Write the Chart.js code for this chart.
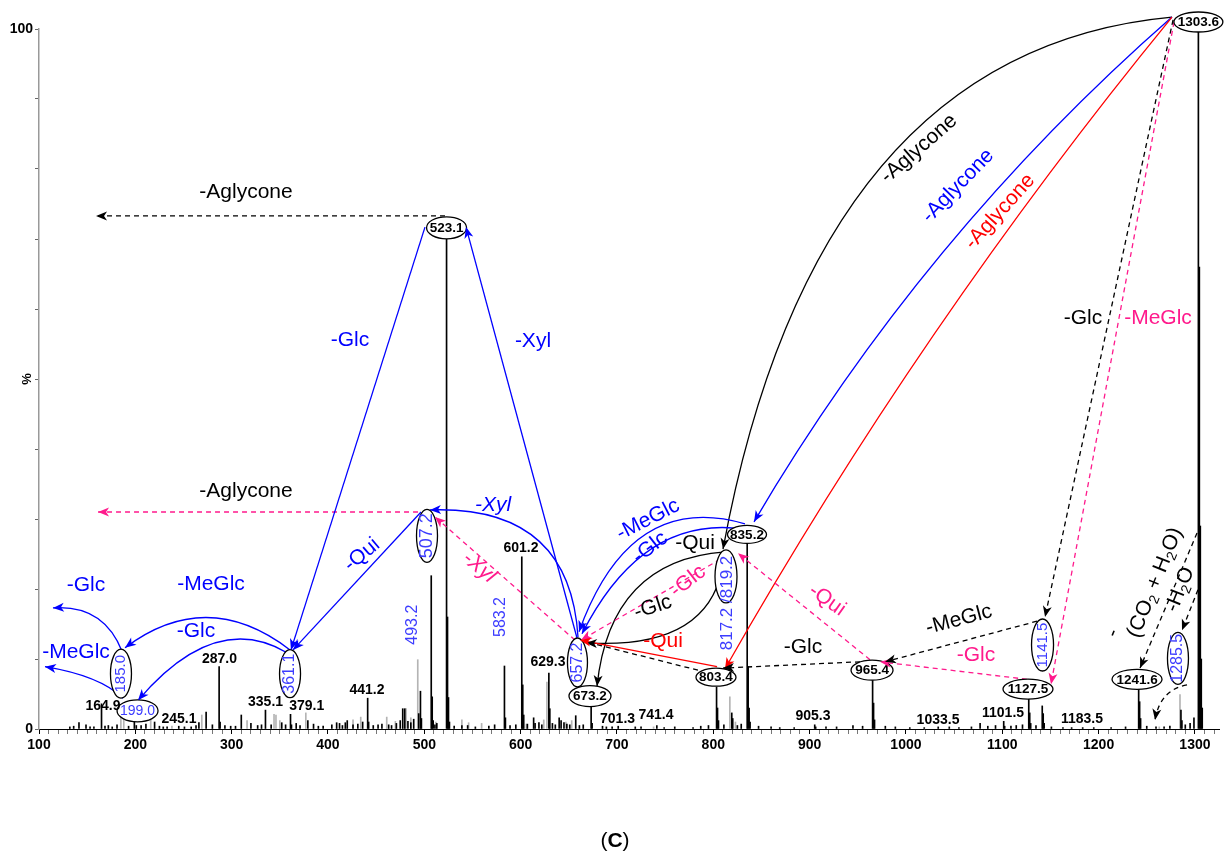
<!DOCTYPE html>
<html>
<head>
<meta charset="utf-8">
<script src="https://cdn.jsdelivr.net/npm/chart.js@4/dist/chart.umd.min.js"></script>
<style>
  html, body { margin: 0; background: #fff; }
  canvas { display: block; }
</style>
</head>
<body>
<canvas id="spectrum" width="1227" height="860"></canvas>
<script>
// MS/MS spectrum of the 1303.6 precursor with the fragmentation pathway drawn over it.

// Centroided peaks (m/z, relative intensity %), black trace
const mzMain = [132.0, 136.0, 141.5, 148.8, 153.0, 157.0, 164.9, 168.5, 172.0, 176.0,
  181.0, 193.0, 199.0, 201.0, 206.0, 211.0, 220.0, 225.0, 229.0, 233.0,
  245.1, 251.0, 258.0, 263.0, 266.0, 273.5, 280.0, 287.0, 288.0, 293.0,
  299.0, 304.0, 310.0, 320.0, 327.0, 331.0, 335.1, 341.0, 352.0, 356.0,
  361.1, 362.1, 367.0, 371.0, 379.1, 385.0, 390.0, 395.0, 404.0, 409.0,
  412.0, 415.0, 418.0, 420.0, 426.0, 431.0, 436.0, 441.2, 442.2, 447.0,
  452.0, 456.0, 463.0, 466.0, 471.0, 475.0, 477.6, 479.7, 483.0, 486.0,
  489.0, 494.2, 496.0, 497.0, 507.2, 508.2, 509.2, 511.0, 513.0, 523.1,
  524.1, 525.1, 526.1, 531.0, 539.0, 545.0, 553.0, 567.0, 573.0, 583.2,
  584.2, 589.0, 595.0, 601.2, 602.2, 603.2, 607.0, 613.5, 615.0, 619.0,
  622.0, 629.3, 630.3, 633.0, 636.0, 640.0, 642.0, 645.0, 648.0, 651.0,
  657.2, 661.0, 665.0, 673.2, 674.2, 685.0, 689.0, 695.0, 701.3, 719.0,
  725.0, 741.4, 749.0, 760.0, 779.0, 787.0, 795.0, 803.4, 804.4, 805.4,
  811.0, 819.2, 820.2, 825.0, 829.0, 835.2, 836.2, 837.2, 838.2, 847.0,
  860.0, 869.0, 884.0, 905.3, 906.3, 917.0, 928.0, 945.0, 955.0, 965.4,
  966.4, 967.4, 978.6, 989.0, 1004.0, 1019.0, 1033.5, 1045.0, 1055.0, 1068.0,
  1077.0, 1085.0, 1093.0, 1101.5, 1102.5, 1109.0, 1114.5, 1121.0, 1127.5, 1128.5,
  1129.5, 1135.0, 1141.5, 1142.5, 1143.5, 1151.0, 1163.0, 1172.0, 1183.5, 1195.0,
  1213.0, 1228.0, 1241.6, 1242.6, 1243.6, 1250.0, 1259.6, 1268.0, 1274.0, 1285.5,
  1286.5, 1290.0, 1295.0, 1299.0, 1303.6, 1304.6, 1305.6, 1306.6, 1307.6];
const intMain = [0.3, 0.4, 0.9, 0.6, 0.3, 0.3, 3.6, 0.4, 0.5, 0.3,
  0.6, 0.4, 2.7, 0.5, 0.5, 0.7, 1.0, 0.4, 0.3, 0.3,
  0.4, 0.3, 0.3, 0.5, 0.9, 2.4, 0.6, 8.9, 1.0, 0.5,
  0.4, 0.4, 2.0, 0.8, 0.5, 0.6, 2.7, 0.6, 0.9, 0.6,
  2.1, 0.6, 0.8, 0.5, 1.2, 0.7, 0.4, 0.4, 0.6, 0.9,
  0.8, 0.5, 0.9, 1.2, 0.6, 0.7, 1.0, 4.4, 1.0, 0.5,
  0.6, 0.7, 0.6, 0.5, 0.8, 1.2, 2.9, 2.9, 1.1, 0.9,
  1.4, 2.2, 5.4, 1.5, 21.9, 4.6, 1.2, 0.6, 0.8, 70.0,
  16.0, 4.5, 1.0, 0.4, 0.5, 0.5, 0.3, 0.4, 0.6, 9.0,
  1.6, 0.5, 0.6, 24.6, 6.3, 2.0, 0.7, 1.6, 0.8, 0.9,
  0.6, 8.0, 2.9, 0.8, 0.6, 1.6, 1.2, 0.9, 0.7, 0.6,
  1.9, 0.5, 0.6, 4.0, 0.8, 0.4, 0.3, 0.3, 0.4, 0.3,
  0.3, 0.5, 0.2, 0.3, 0.2, 0.4, 0.5, 6.0, 3.0, 1.2,
  0.6, 2.3, 1.5, 0.5, 0.7, 26.9, 8.9, 3.0, 1.0, 0.4,
  0.3, 0.2, 0.2, 0.6, 0.3, 0.3, 0.3, 0.5, 0.4, 7.0,
  3.7, 1.3, 0.4, 0.3, 0.2, 0.2, 0.3, 0.3, 0.2, 0.3,
  0.8, 0.4, 0.5, 1.1, 0.4, 0.4, 0.5, 0.6, 4.4, 2.3,
  0.8, 0.5, 3.3, 2.2, 0.8, 0.3, 0.2, 0.2, 0.2, 0.2,
  0.2, 0.3, 5.9, 3.9, 1.5, 0.4, 0.3, 0.3, 0.4, 2.7,
  1.2, 0.6, 0.8, 1.6, 100, 66, 29, 10, 3];

// Second (grey) trace
const mzGrey = [185.0, 188.0, 216.0, 238.0, 269.0, 316.0, 344.0, 346.0, 350.0, 377.0,
  426.0, 434.0, 461.0, 470.0, 481.0, 486.0, 493.2, 512.0, 539.0, 546.0,
  559.5, 606.0, 624.0, 627.3, 647.0, 653.0, 738.0, 817.2, 823.0, 1263.0,
  1284.5];
const intGrey = [1.7, 2.4, 1.5, 0.4, 2.0, 1.2, 2.1, 2.0, 1.2, 2.3,
  1.3, 1.7, 1.7, 1.1, 2.9, 1.6, 9.9, 1.0, 1.3, 0.9,
  0.8, 0.7, 1.3, 6.7, 1.0, 1.2, 0.3, 4.6, 1.0, 0.3,
  4.9];

const yTickLabels = [0, 100];

const FONT = '"Liberation Sans", Arial, sans-serif';
const BLACK = '#000000';
const BLUE = '#0000ff';
const SOFT_BLUE = '#3c3cff';
const RED = '#ff0000';
const PINK = '#ff1a8c';

// Fragment ions that get a ring around them
const rings = [
  { text: '1303.6', at: [1303.6, 101.0], rx: 24.5, ry: 10 },
  { text: '523.1', at: [523.1, 71.6], rx: 20, ry: 11 },
  { text: '507.2', at: [502.8, 27.6], rx: 10.5, ry: 26.5, vertical: true, size: 18 },
  { text: '657.2', at: [659.0, 9.5], rx: 10, ry: 24.5, vertical: true, size: 16 },
  { text: '673.2', at: [672.0, 4.7], rx: 21, ry: 10.5 },
  { text: '', at: [813.2, 21.8], rx: 11, ry: 26.5 },
  { text: '835.2', at: [835.0, 27.8], rx: 19.5, ry: 9 },
  { text: '803.4', at: [802.8, 7.4], rx: 20, ry: 9 },
  { text: '965.4', at: [964.8, 8.4], rx: 21, ry: 10 },
  { text: '1141.5', at: [1141.8, 12.0], rx: 11, ry: 26, vertical: true, size: 15 },
  { text: '1127.5', at: [1126.7, 5.7], rx: 25, ry: 10 },
  { text: '1241.6', at: [1239.9, 7.1], rx: 25, ry: 10 },
  { text: '1285.5', at: [1282.4, 10.1], rx: 10.5, ry: 26, vertical: true, size: 16 },
  { text: '361.1', at: [360.6, 7.9], rx: 10.5, ry: 24, vertical: true, size: 16 },
  { text: '185.0', at: [185.1, 7.9], rx: 10.5, ry: 24.5, vertical: true, size: 15 },
  { text: '199.0', at: [202.3, 2.6], rx: 20.5, ry: 11, blueText: true, size: 14 },
];

// Neutral losses: straight when no control point, quadratic otherwise
const losses = [
  { from: [1276.2, 101.7], via: [905.6, 97.0], to: [810.1, 25.7], color: BLACK },
  { from: [1276.2, 101.7], via: [1017.3, 70.5], to: [842.3, 29.6], color: BLUE },
  { from: [1276.2, 101.7], via: [1015.6, 57.9], to: [812.2, 8.6], color: RED },
  { from: [1277.3, 101.3], to: [1144.4, 16.0], color: BLACK, dash: true },
  { from: [1278.3, 101.0], to: [1150.6, 6.4], color: PINK, dash: true },
  { from: [521.5, 73.3], to: [159.2, 73.3], color: BLACK, dash: true },
  { from: [493.5, 31.0], to: [161.3, 31.0], color: PINK, dash: true },
  { from: [500.7, 71.7], to: [361.6, 11.3], color: BLUE },
  { from: [658.5, 13.0], to: [543.3, 71.7], color: BLUE },
  { from: [496.6, 31.0], to: [363.7, 11.3], color: BLUE },
  { from: [659.6, 13.1], via: [651.2, 32.0], to: [505.9, 31.3], color: BLUE },
  { from: [656.4, 12.7], to: [511.1, 30.3], color: PINK, dash: true },
  { from: [832.9, 29.3], via: [713.5, 34.1], to: [660.6, 13.9], color: BLUE },
  { from: [822.5, 28.7], via: [723.9, 29.9], to: [663.7, 13.6], color: BLUE },
  { from: [812.2, 25.3], via: [692.8, 24.1], to: [679.3, 6.1], color: BLACK },
  { from: [809.0, 22.7], via: [791.4, 11.3], to: [667.9, 12.3], color: BLACK },
  { from: [815.3, 24.9], to: [662.7, 12.7], color: PINK, dash: true },
  { from: [962.7, 9.9], to: [825.7, 25.1], color: PINK, dash: true },
  { from: [1125.7, 7.1], to: [973.1, 9.6], color: PINK, dash: true },
  { from: [1136.1, 15.4], to: [978.3, 9.6], color: BLACK, dash: true },
  { from: [952.3, 9.6], to: [810.1, 8.7], color: BLACK, dash: true },
  { from: [784.1, 8.4], to: [672.0, 12.3], color: BLACK, dash: true, noHead: true },
  { from: [803.9, 8.9], to: [661.6, 12.7], color: RED },
  { from: [1302.2, 28.0], to: [1243.0, 8.7], color: BLACK, dash: true },
  { from: [1303.2, 19.9], to: [1286.6, 14.1], color: BLACK, dash: true },
  { from: [1291.8, 6.3], via: [1263.8, 5.6], to: [1258.6, 1.3], color: BLACK, dash: true },
  { from: [360.6, 11.3], via: [274.4, 20.4], to: [189.3, 11.6], color: BLUE },
  { from: [357.5, 10.9], via: [282.7, 17.0], to: [202.8, 4.1], color: BLUE },
  { from: [186.2, 11.1], via: [167.0, 17.8], to: [114.5, 17.3], color: BLUE },
  { from: [187.2, 4.4], via: [163.3, 7.6], to: [106.2, 8.9], color: BLUE },
];

const lossNames = [
  { text: '-Aglycone', at: [314.9, 76.7], color: BLACK },
  { text: '-Aglycone', at: [314.9, 33.9], color: BLACK },
  { text: '-Glc', at: [422.9, 55.6], color: BLUE },
  { text: '-Xyl', at: [612.8, 55.4], color: BLUE },
  { text: '-Qui', at: [435.3, 24.9], color: BLUE, rot: -40 },
  { text: '-Xyl', at: [571.3, 32.0], color: BLUE, italic: true },
  { text: '-Xyl', at: [556.8, 23.1], color: PINK, italic: true, rot: 40 },
  { text: '-MeGlc', at: [732.2, 29.9], color: BLUE, rot: -27 },
  { text: '-Glc', at: [734.3, 25.9], color: BLUE, rot: -38 },
  { text: '-Qui', at: [781.0, 26.5], color: BLACK },
  { text: '-Glc', at: [773.7, 21.1], color: PINK, rot: -38 },
  { text: '-Glc', at: [737.4, 17.4], color: BLACK, rot: -18 },
  { text: '-Qui', at: [747.8, 12.6], color: RED },
  { text: '-Qui', at: [918.1, 18.4], color: PINK, rot: 35 },
  { text: '-Glc', at: [893.1, 11.7], color: BLACK },
  { text: '-MeGlc', at: [1055.1, 15.6], color: BLACK, rot: -15 },
  { text: '-Glc', at: [1072.7, 10.6], color: PINK },
  { text: '-Glc', at: [1183.8, 58.7], color: BLACK },
  { text: '-MeGlc', at: [1261.7, 58.7], color: PINK },
  { text: '-Aglycone', at: [1013.6, 82.9], color: BLACK, rot: -41 },
  { text: '-Aglycone', at: [1054.1, 77.6], color: BLUE, rot: -46 },
  { text: '-Aglycone', at: [1097.7, 73.9], color: RED, rot: -48 },
  { text: '-MeGlc', at: [278.6, 20.7], color: BLUE },
  { text: '-Glc', at: [263.0, 13.9], color: BLUE },
  { text: '-Glc', at: [148.8, 20.6], color: BLUE },
  { text: '-MeGlc', at: [138.4, 10.9], color: BLUE },
  { text: '-', at: [1215.0, 13.7], color: BLACK, rot: -68 },
];

const peakLabels = [
  { text: '164.9', at: [166.4, 3.3] }, { text: '245.1', at: [245.3, 1.4] },
  { text: '287.0', at: [287.4, 10.0] }, { text: '335.1', at: [335.2, 3.8] },
  { text: '379.1', at: [377.9, 3.3] }, { text: '441.2', at: [440.5, 5.6] },
  { text: '601.2', at: [600.4, 25.9] }, { text: '629.3', at: [628.4, 9.5] },
  { text: '701.3', at: [700.6, 1.4] }, { text: '741.4', at: [740.5, 2.0] },
  { text: '905.3', at: [903.5, 1.9] }, { text: '1033.5', at: [1033.3, 1.3] },
  { text: '1101.5', at: [1100.8, 2.3] }, { text: '1183.5', at: [1182.8, 1.4] },
];

const sideLabels = [
  { text: '493.2', at: [487.7, 14.9], size: 16 },
  { text: '583.2', at: [579.3, 16.0], size: 16 },
  { text: '817.2 /819.2', at: [814.2, 18.0], size: 17 },
];

const toPoints = (mz, val) => mz.map((m, i) => ({ x: m, y: val[i] }));

function textAt(ctx, text, x, y, o) {
  ctx.save();
  ctx.translate(x, y);
  if (o.rot) ctx.rotate(o.rot * Math.PI / 180);
  ctx.font = `${o.italic ? 'italic ' : ''}${o.bold ? 'bold ' : ''}${o.size}px ${FONT}`;
  ctx.fillStyle = o.color;
  ctx.textAlign = 'center';
  ctx.textBaseline = 'middle';
  ctx.fillText(text, 0, 0);
  ctx.restore();
}

// text with subscripts / mixed weights, centred on (x, y)
function richText(ctx, parts, x, y, size, color, rot) {
  ctx.save();
  ctx.translate(x, y);
  ctx.rotate((rot || 0) * Math.PI / 180);
  const fonts = parts.map((p) => `${p.bold ? 'bold ' : ''}${p.sub ? Math.round(size * 0.66) : size}px ${FONT}`);
  const widths = parts.map((p, i) => { ctx.font = fonts[i]; return ctx.measureText(p.t).width; });
  let cx = -widths.reduce((a, b) => a + b, 0) / 2;
  ctx.fillStyle = color;
  ctx.textAlign = 'left';
  ctx.textBaseline = 'middle';
  parts.forEach((p, i) => {
    ctx.font = fonts[i];
    ctx.fillText(p.t, cx, p.sub ? size * 0.3 : 0);
    cx += widths[i];
  });
  ctx.restore();
}

function arrowHead(ctx, x, y, ang, color) {
  ctx.save();
  ctx.translate(x, y);
  ctx.rotate(ang);
  ctx.beginPath();
  ctx.moveTo(0, 0);
  ctx.lineTo(-11, -4.5);
  ctx.lineTo(-8, 0);
  ctx.lineTo(-11, 4.5);
  ctx.closePath();
  ctx.fillStyle = color;
  ctx.fill();
  ctx.restore();
}

const pathwayPlugin = {
  id: 'pathway',
  afterDatasetsDraw(chart) {
    const { ctx, scales: { x, y } } = chart;
    const px = (p) => [x.getPixelForValue(p[0]), y.getPixelForValue(p[1])];

    // loss arrows, shafts first
    const heads = [];
    losses.forEach((l) => {
      const a = px(l.from), b = px(l.to);
      const c = l.via ? px(l.via) : a;
      ctx.save();
      ctx.strokeStyle = l.color;
      ctx.lineWidth = 1.3;
      if (l.dash) ctx.setLineDash([5, 4]);
      ctx.beginPath();
      ctx.moveTo(a[0], a[1]);
      if (l.via) ctx.quadraticCurveTo(c[0], c[1], b[0], b[1]);
      else ctx.lineTo(b[0], b[1]);
      ctx.stroke();
      ctx.restore();
      if (!l.noHead) heads.push([b[0], b[1], Math.atan2(b[1] - c[1], b[0] - c[0]), l.color]);
    });

    // rings
    rings.forEach((r) => {
      const [cx, cy] = px(r.at);
      ctx.save();
      ctx.beginPath();
      ctx.ellipse(cx, cy, r.rx, r.ry, 0, 0, Math.PI * 2);
      ctx.fillStyle = '#fff';
      ctx.fill();
      ctx.lineWidth = 1.3;
      ctx.strokeStyle = BLACK;
      ctx.stroke();
      ctx.restore();
      if (!r.text) return;
      if (r.vertical) textAt(ctx, r.text, cx, cy, { size: r.size, color: SOFT_BLUE, rot: -90 });
      else if (r.blueText) textAt(ctx, r.text, cx, cy, { size: r.size, color: SOFT_BLUE });
      else textAt(ctx, r.text, cx, cy + 0.5, { size: 13.5, bold: true, color: BLACK });
    });

    heads.forEach((h) => arrowHead(ctx, h[0], h[1], h[2], h[3]));

    lossNames.forEach((n) => {
      const [lx, ly] = px(n.at);
      textAt(ctx, n.text, lx, ly, { size: 21, color: n.color, rot: n.rot, italic: n.italic });
    });

    const [wx, wy] = px([1258.6, 20.9]);
    richText(ctx, [{ t: '(CO' }, { t: '2', sub: true }, { t: ' + H' }, { t: '2', sub: true }, { t: 'O)' }],
      wx, wy, 21, BLACK, -68);
    const [hx, hy] = px([1284.5, 19.9]);
    richText(ctx, [{ t: '-H' }, { t: '2', sub: true }, { t: 'O' }], hx, hy, 21, BLACK, -68);

    peakLabels.forEach((p) => {
      const [lx, ly] = px(p.at);
      textAt(ctx, p.text, lx, ly, { size: 14, bold: true, color: BLACK });
    });
    sideLabels.forEach((p) => {
      const [lx, ly] = px(p.at);
      textAt(ctx, p.text, lx, ly, { size: p.size, color: SOFT_BLUE, rot: -90 });
    });
  },
  afterDraw(chart) {
    const { ctx, chartArea } = chart;
    const midY = chart.scales.y.getPixelForValue(50);
    textAt(ctx, '%', chartArea.left - 12, midY, { size: 13, bold: true, color: BLACK, rot: -90 });
    richText(ctx, [{ t: '(' }, { t: 'C', bold: true }, { t: ')' }], chartArea.left + 576, 841, 21, BLACK, 0);
  },
};

new Chart(document.getElementById('spectrum'), {
  type: 'bar',
  data: {
    datasets: [
      {
        label: 'grey trace',
        data: toPoints(mzGrey, intGrey),
        backgroundColor: '#b4b4b4',
        barThickness: 1,
        grouped: false,
        order: 2,
      },
      {
        label: 'spectrum',
        data: toPoints(mzMain, intMain),
        backgroundColor: BLACK,
        barThickness: 1,
        grouped: false,
        order: 1,
      },
    ],
  },
  options: {
    responsive: false,
    animation: false,
    devicePixelRatio: 1,
    layout: { padding: { left: 0, right: 8, top: 29, bottom: 0 } },
    plugins: { legend: { display: false }, tooltip: { enabled: false } },
    scales: {
      x: {
        type: 'linear',
        min: 100,
        max: 1325,
        offset: false,
        afterFit: (s) => { s.height = 131; },
        border: { color: BLACK, width: 1 },
        grid: {
          offset: false,
          drawOnChartArea: false,
          tickLength: 5,
          tickColor: (c) => (c.tick && Math.round(c.tick.value) % 100 === 0 ? BLACK : '#777'),
        },
        ticks: {
          stepSize: 10,
          includeBounds: false,
          autoSkip: false,
          maxRotation: 0,
          minRotation: 0,
          padding: 3,
          color: BLACK,
          font: { family: FONT, size: 14, weight: 'bold' },
          callback: (v) => (Math.round(v) % 100 === 0 ? String(Math.round(v)) : ''),
        },
      },
      y: {
        min: 0,
        max: 100,
        afterFit: (s) => { s.width = 39; },
        border: { color: '#999', width: 1.5 },
        grid: { drawOnChartArea: false, tickLength: 4, tickColor: '#666' },
        ticks: {
          stepSize: 10,
          padding: 2,
          color: BLACK,
          font: { family: FONT, size: 14, weight: 'bold' },
          callback: (v) => (yTickLabels.includes(v) ? String(v) : ''),
        },
      },
    },
  },
  plugins: [pathwayPlugin],
});
</script>
</body>
</html>
